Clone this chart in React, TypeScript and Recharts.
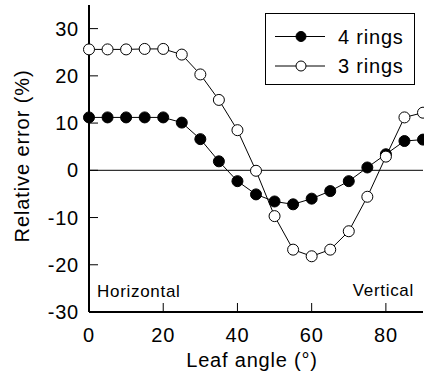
import React from 'react';
import { LineChart, Line, XAxis, YAxis, ReferenceLine, Legend } from 'recharts';

// leaf angle (degrees)
const angles = [0, 5, 10, 15, 20, 25, 30, 35, 40, 45, 50, 55, 60, 65, 70, 75, 80, 85, 90];
// relative error (%)
const fourRings = [11.2, 11.2, 11.2, 11.2, 11.2, 10.1, 6.6, 1.9, -2.3, -5.1, -6.6, -7.2, -6.0, -4.4, -2.3, 0.6, 3.4, 6.2, 6.5];
const threeRings = [25.6, 25.6, 25.6, 25.7, 25.7, 24.5, 20.3, 14.9, 8.5, -0.1, -9.7, -16.8, -18.2, -16.8, -12.9, -5.6, 2.9, 11.2, 12.2];

const xTicks = [0, 20, 40, 60, 80];
const yTicks = [-30, -20, -10, 0, 10, 20, 30];

const data = angles.map((angle, i) => ({ angle, four: fourRings[i], three: threeRings[i] }));

const FONT = '"Liberation Sans", Arial, Helvetica, sans-serif';
const TICK_LEN = 9;

const BottomTick = ({ x, y, payload }: any) => (
  <g>
    <line x1={x} y1={y} x2={x} y2={y - TICK_LEN} stroke="#000" strokeWidth={1} />
    <text x={x} y={y + 30} textAnchor="middle" fontFamily={FONT} fontSize={20} letterSpacing={0.8} fill="#000">
      {payload.value}
    </text>
  </g>
);

const LeftTick = ({ x, y, payload }: any) => (
  <g>
    <line x1={x} y1={y} x2={x + TICK_LEN} y2={y} stroke="#000" strokeWidth={1} />
    <text x={x - 10} y={y + 7} textAnchor="end" fontFamily={FONT} fontSize={20} letterSpacing={0.8} fill="#000">
      {payload.value}
    </text>
  </g>
);

const TopTick = ({ x, y }: any) => (
  <line x1={x} y1={y} x2={x} y2={y + TICK_LEN} stroke="#000" strokeWidth={1} />
);

const RightTick = ({ x, y }: any) => (
  <line x1={x} y1={y} x2={x - TICK_LEN} y2={y} stroke="#000" strokeWidth={1} />
);

const LegendBox = () => (
  <svg width={150} height={72} style={{ display: 'block' }}>
    <rect x={0.5} y={0.5} width={149} height={71} fill="#fff" stroke="#000" strokeWidth={1} />
    <line x1={10} y1={23.5} x2={60} y2={23.5} stroke="#000" strokeWidth={1} />
    <circle cx={36} cy={23.5} r={5} fill="#000" stroke="#000" />
    <text x={73} y={30.5} fontFamily={FONT} fontSize={20} letterSpacing={0.8} fill="#000">4 rings</text>
    <line x1={10} y1={53} x2={60} y2={53} stroke="#000" strokeWidth={1} />
    <circle cx={36} cy={53} r={5} fill="#fff" stroke="#000" />
    <text x={73} y={60} fontFamily={FONT} fontSize={20} letterSpacing={0.8} fill="#000">3 rings</text>
  </svg>
);

export default function App() {
  return (
    <div style={{ position: 'absolute', left: 0, top: 0, width: 424, height: 383, background: '#fff' }}>
      <LineChart width={424} height={383} data={data} margin={{ top: 5, right: 1, bottom: 0, left: 0 }}>
        <XAxis
          dataKey="angle"
          type="number"
          domain={[0, 90]}
          ticks={xTicks}
          height={71}
          tickSize={0}
          tickMargin={0}
          tickLine={false}
          tick={<BottomTick />}
          axisLine={{ stroke: '#000', strokeWidth: 2 }}
        />
        <XAxis
          xAxisId="top"
          orientation="top"
          dataKey="angle"
          type="number"
          domain={[0, 90]}
          ticks={xTicks}
          height={0}
          tickSize={0}
          tickMargin={0}
          tickLine={false}
          tick={<TopTick />}
          axisLine={{ stroke: '#000', strokeWidth: 2 }}
        />
        <YAxis
          type="number"
          domain={[-30, 35]}
          ticks={yTicks}
          width={89}
          tickSize={0}
          tickMargin={0}
          tickLine={false}
          tick={<LeftTick />}
          axisLine={{ stroke: '#000', strokeWidth: 2 }}
        />
        <YAxis
          yAxisId="right"
          orientation="right"
          type="number"
          domain={[-30, 35]}
          ticks={yTicks}
          width={0}
          tickSize={0}
          tickMargin={0}
          tickLine={false}
          tick={<RightTick />}
          axisLine={{ stroke: '#000', strokeWidth: 2 }}
        />
        <ReferenceLine y={0} stroke="#000" strokeWidth={1} />
        <Line
          dataKey="four"
          name="4 rings"
          stroke="#000"
          strokeWidth={1}
          dot={{ r: 5.5, fill: '#000', stroke: '#000', strokeWidth: 1 }}
          isAnimationActive={false}
        />
        <Line
          dataKey="three"
          name="3 rings"
          stroke="#000"
          strokeWidth={1}
          dot={{ r: 5.5, fill: '#fff', stroke: '#000', strokeWidth: 1 }}
          isAnimationActive={false}
        />
        <Legend
          layout="vertical"
          align="center"
          verticalAlign="middle"
          content={<LegendBox />}
          wrapperStyle={{ position: 'absolute', left: 265, top: 13, width: 150, height: 72 }}
        />
      </LineChart>
      <svg
        width={424}
        height={383}
        style={{ position: 'absolute', left: 0, top: 0, pointerEvents: 'none' }}
      >
        <text x={252} y={367} textAnchor="middle" fontFamily={FONT} fontSize={20} letterSpacing={0.8} fill="#000">
          Leaf angle (°)
        </text>
        <text
          transform="translate(29, 156) rotate(-90)"
          textAnchor="middle"
          fontFamily={FONT}
          fontSize={20}
          letterSpacing={0.9}
          fill="#000"
        >
          Relative error (%)
        </text>
        <text x={97} y={297} fontFamily={FONT} fontSize={17} letterSpacing={0.7} fill="#000">
          Horizontal
        </text>
        <text x={414} y={296} textAnchor="end" fontFamily={FONT} fontSize={17} letterSpacing={0.7} fill="#000">
          Vertical
        </text>
      </svg>
    </div>
  );
}
